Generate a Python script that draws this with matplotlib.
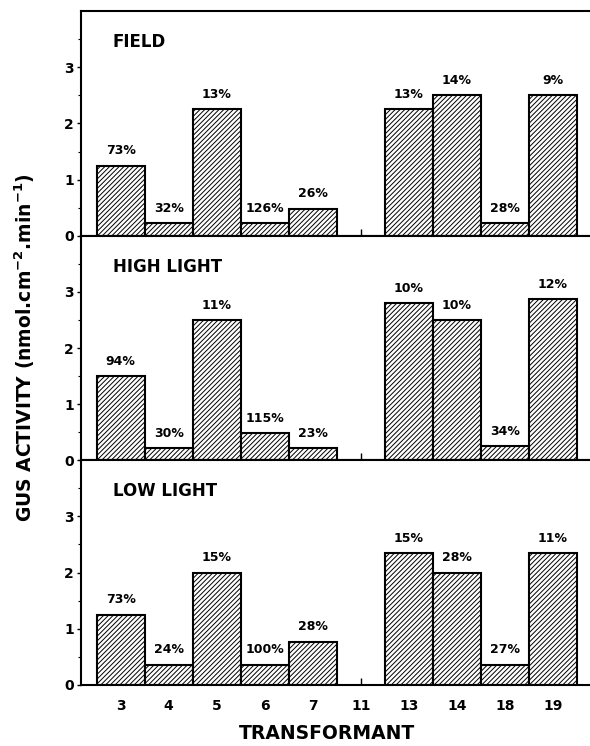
import matplotlib.pyplot as plt
import numpy as np

plt.rcParams['font.family'] = ['DejaVu Sans']
plt.rcParams['font.weight'] = 'bold'
plt.rcParams['hatch.linewidth'] = 0.7

# Transformant lines (11 has no bar)
categories = ['3', '4', '5', '6', '7', '11', '13', '14', '18', '19']

panel_names = ['FIELD', 'HIGH LIGHT', 'LOW LIGHT']

field = [1.25, 0.22, 2.25, 0.22, 0.48, None, 2.25, 2.5, 0.22, 2.5]
high_light = [1.5, 0.22, 2.5, 0.48, 0.22, None, 2.8, 2.5, 0.25, 2.87]
low_light = [1.25, 0.36, 2.0, 0.36, 0.77, None, 2.34, 2.0, 0.36, 2.34]

field_cv = ['73%', '32%', '13%', '126%', '26%', '', '13%', '14%', '28%', '9%']
high_cv = ['94%', '30%', '11%', '115%', '23%', '', '10%', '10%', '34%', '12%']
low_cv = ['73%', '24%', '15%', '100%', '28%', '', '15%', '28%', '27%', '11%']

values = [field, high_light, low_light]
labels = [field_cv, high_cv, low_cv]

fig = plt.figure(figsize=(5.9, 7.46), dpi=100)
left, right = 0.137, 1.0
bottom, top = 0.082, 0.985
h = (top - bottom) / 3

x = np.arange(len(categories))
for i in range(3):
    ax = fig.add_axes([left, top - (i + 1) * h, right - left, h])
    ax.set_axisbelow(True)
    for xi, v, lab in zip(x, values[i], labels[i]):
        if v is None:
            continue
        ax.bar(xi, v, width=1.0, color='white', edgecolor='black',
               linewidth=1.5, hatch='/' * 7)
        ax.text(xi, v + 0.15, lab, ha='center', va='bottom', fontsize=9,
                fontweight='bold')
    ax.set_xlim(-0.83, 9.77)
    ax.set_ylim(0, 4)
    ax.set_yticks([0, 1, 2, 3])
    ax.set_yticks(np.arange(0.5, 4, 0.5), minor=True)
    ax.tick_params(axis='y', which='major', length=3, width=1,
                   labelsize=10, pad=2)
    ax.tick_params(axis='y', which='minor', length=2, width=0.8)
    ax.set_xticks(x)
    ax.tick_params(axis='x', direction='in', length=5, width=1,
                   labelsize=10, pad=10)
    if i < 2:
        ax.set_xticklabels([])
    else:
        ax.set_xticklabels(categories)
    ax.spines['right'].set_visible(False)
    for s in ['left', 'bottom', 'top']:
        ax.spines[s].set_linewidth(1.5)
    for t in ax.get_yticklabels() + ax.get_xticklabels():
        t.set_fontweight('bold')
    ax.text(0.063, 0.862, panel_names[i], transform=ax.transAxes,
            fontsize=12, fontweight='bold', ha='left', va='center')

fig.text(0.042, (bottom + top) / 2,
         'GUS ACTIVITY (nmol.cm$^{\\mathbf{-2}}$.min$^{\\mathbf{-1}}$)',
         rotation=90, ha='center', va='center', fontsize=13.5,
         fontweight='bold')
fig.text(0.555, 0.017, 'TRANSFORMANT', ha='center', va='center',
         fontsize=13.5, fontweight='bold')

plt.savefig('out.png', dpi=100)
